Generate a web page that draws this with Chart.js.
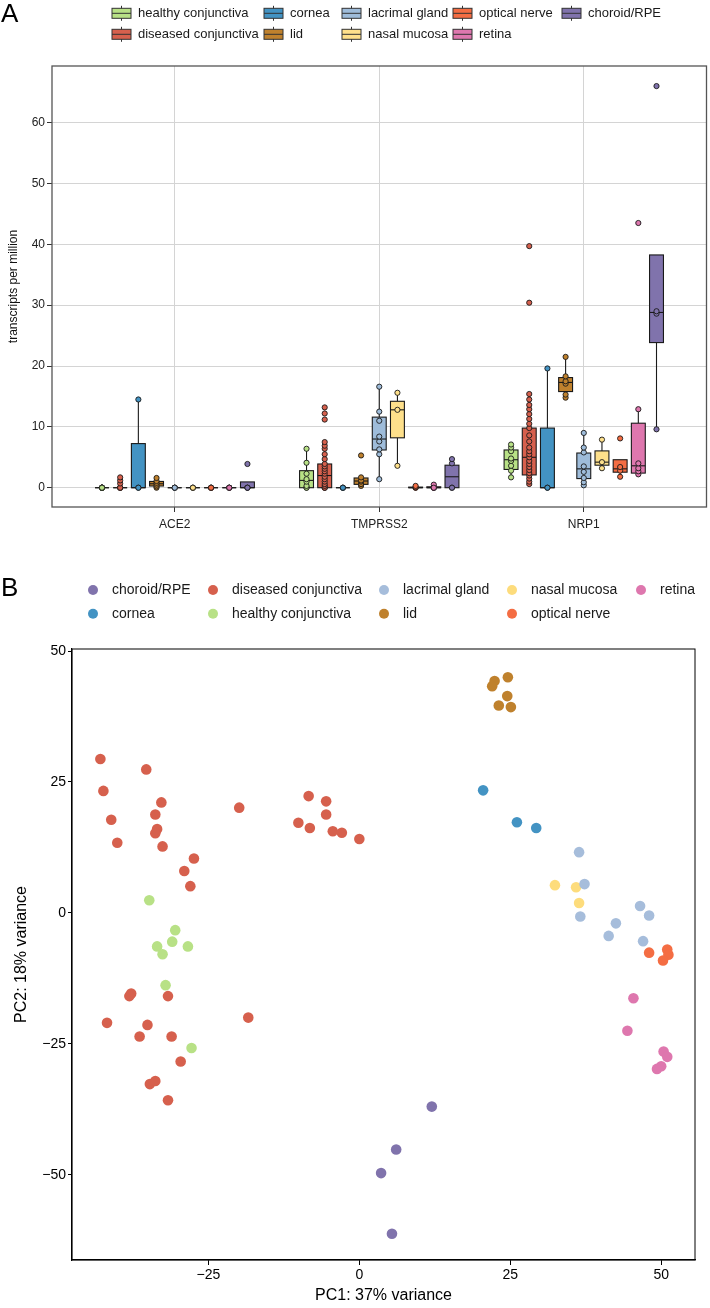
<!DOCTYPE html>
<html>
<head>
<meta charset="utf-8">
<script src="https://cdn.jsdelivr.net/npm/chart.js@4/dist/chart.umd.min.js"></script>
<style>
  body { margin: 0; background: #fff; }
  #wrapA { position: absolute; left: 0; top: 0; width: 710px; height: 545px; }
  #wrapB { position: absolute; left: 0; top: 545px; width: 710px; height: 763px; }
</style>
</head>
<body>
<div id="wrapA"><canvas id="boxChart"></canvas></div>
<div id="wrapB"><canvas id="pcaChart"></canvas></div>
<script>
// ---- panel A data ----
const genes = ["ACE2", "TMPRSS2", "NRP1"];
const tissues = ["healthy conjunctiva", "diseased conjunctiva", "cornea", "lid", "lacrimal gland",
                 "nasal mucosa", "optical nerve", "retina", "choroid/RPE"];
const tissueColors = ["#b8e186", "#d6604d", "#4393c3", "#bf812d", "#9ebcda",
                      "#fee08b", "#f46d43", "#de77ae", "#8073ac"];
const tpmTicks = [0, 10, 20, 30, 40, 50, 60];

// box stats per tissue: [lower whisker, q1, median, q3, upper whisker]
const ace2Box = [
  [0, 0, 0, 0, 0], [0, 0, 0, 0, 0], [0, 0, 0, 7.25, 14.5], [0, 0.28, 0.65, 1.03, 1.6],
  [0, 0, 0, 0, 0], [0, 0, 0, 0, 0], [0, 0, 0, 0, 0], [0, 0, 0, 0, 0], [0, 0, 0, 0.95, 0.95]
];
const tmprss2Box = [
  [0, 0, 1.2, 2.8, 6.4], [0, 0, 2.0, 3.9, 7.5], [0, 0, 0, 0, 0], [0.3, 0.55, 1.1, 1.6, 1.7],
  [1.4, 6.2, 8.0, 11.6, 16.6], [3.6, 8.2, 12.8, 14.2, 15.6], [0, 0, 0, 0.1, 0.3],
  [0, 0, 0, 0.15, 0.5], [0, 0, 1.8, 3.7, 4.7]
];
const nrp1Box = [
  [1.7, 3.0, 4.6, 6.2, 7.1], [0.6, 2.1, 5.0, 9.8, 15.4], [0, 0, 0, 9.8, 19.6],
  [14.8, 15.8, 17.3, 18.1, 21.5], [0.4, 1.5, 3.1, 5.7, 9.0], [3.2, 3.7, 4.2, 6.05, 7.9],
  [1.8, 2.55, 3.1, 4.6, 4.6], [2.2, 2.4, 3.6, 10.6, 12.9], [9.6, 23.85, 28.8, 38.25, 38.25]
];

// individual samples per tissue
const ace2Points = [
  [0, 0, 0, 0, 0, 0, 0, 0], [0, 0, 0, 0, 0.7, 1.2, 1.7], [0, 0, 14.5], [0, 0.2, 0.5, 0.8, 1.1, 1.6],
  [0, 0, 0, 0], [0, 0, 0], [0, 0, 0, 0], [0, 0, 0, 0], [0, 0, 0, 3.9]
];
const tmprss2Points = [
  [0, 0, 0.3, 1.0, 1.4, 2.3, 4.1, 6.4],
  [0, 0, 0, 0.3, 0.6, 1.0, 1.4, 1.8, 2.3, 2.7, 3.1, 3.5, 3.9, 4.7, 5.5, 6.4, 6.9, 7.5, 11.2, 12.2, 13.2],
  [0, 0, 0], [0.3, 0.6, 1.0, 1.2, 1.7, 5.3],
  [1.4, 5.5, 6.3, 7.6, 8.4, 11.0, 12.5, 16.6], [3.6, 12.8, 15.6], [0, 0, 0.1, 0.3],
  [0, 0, 0, 0.2, 0.5, 0], [0, 0, 4.0, 4.7]
];
const nrp1Points = [
  [1.7, 2.8, 3.6, 4.4, 4.8, 6.0, 6.6, 7.1],
  [0.6, 1.0, 1.5, 2.0, 2.4, 2.9, 3.4, 3.9, 4.4, 5.0, 5.5, 6.0, 6.6, 7.6, 8.6, 9.8, 10.5, 11.3,
   12.1, 12.9, 13.6, 14.5, 15.4, 30.4, 39.7],
  [0, 0, 19.6], [14.8, 15.3, 17.1, 17.5, 18.3, 21.5],
  [0.4, 0.9, 1.6, 2.6, 3.5, 5.8, 6.6, 9.0], [3.2, 4.2, 7.9], [1.8, 2.8, 3.4, 8.1],
  [2.2, 2.7, 3.2, 4.0, 12.9, 43.5], [9.6, 28.6, 29.0, 66.0]
];

// ---- panel B data ----
const pcaTissues = ["choroid/RPE", "cornea", "diseased conjunctiva", "healthy conjunctiva",
                    "lacrimal gland", "lid", "nasal mucosa", "optical nerve", "retina"];
const pcaColors = ["#8073ac", "#4393c3", "#d6604d", "#b8e186", "#a6bddb",
                   "#bf812d", "#fddc7c", "#f46d43", "#de77ae"];
const pc1Ticks = [-25, 0, 25, 50];
const pc2Ticks = [-50, -25, 0, 25, 50];

const pcaChoroid = [[3.6, -49.7], [6.1, -45.2], [12.0, -37.0], [5.4, -61.3]];
const pcaCornea = [[20.5, 23.4], [26.1, 17.3], [29.3, 16.2]];
const pcaDiseased = [
  [-42.9, 29.4], [-42.4, 23.3], [-41.1, 17.8], [-40.1, 13.4], [-35.3, 27.4], [-32.8, 21.1],
  [-33.8, 18.8], [-33.5, 16.0], [-33.8, 15.2], [-32.6, 12.7], [-27.4, 10.4], [-29.0, 8.0],
  [-28.0, 5.1], [-19.9, 20.1], [-10.1, 17.2], [-8.4, 22.3], [-8.2, 16.2], [-5.5, 21.3],
  [-5.5, 18.8], [-4.4, 15.6], [-2.9, 15.3], [0.0, 14.1],
  [-37.8, -15.4], [-38.1, -15.9], [-31.7, -15.9], [-41.8, -21.0], [-35.1, -21.4], [-18.4, -20.0],
  [-36.4, -23.6], [-31.1, -23.6], [-29.6, -28.4], [-34.7, -32.7], [-33.8, -32.1], [-31.7, -35.8]
];
const pcaHealthy = [[-34.8, 2.4], [-30.5, -3.3], [-31.0, -5.5], [-33.5, -6.4], [-28.4, -6.4],
                    [-32.6, -7.9], [-32.1, -13.8], [-27.8, -25.8]];
const pcaLacrimal = [[36.4, 11.6], [37.3, 5.5], [36.6, -0.7], [46.5, 1.3], [48.0, -0.5],
                     [42.5, -2.0], [41.3, -4.4], [47.0, -5.4]];
const pcaLid = [[24.6, 45.0], [22.4, 44.3], [22.0, 43.3], [24.5, 41.4], [23.1, 39.6], [25.1, 39.3]];
const pcaNasal = [[32.4, 5.3], [35.9, 4.9], [36.4, 1.9]];
const pcaOptical = [[48.0, -7.6], [51.0, -7.0], [51.2, -8.0], [50.3, -9.1]];
const pcaRetina = [[45.4, -16.3], [44.4, -22.5], [50.4, -26.5], [51.0, -27.5], [50.0, -29.3], [49.3, -29.8]];
const pcaPoints = [pcaChoroid, pcaCornea, pcaDiseased, pcaHealthy, pcaLacrimal,
                   pcaLid, pcaNasal, pcaOptical, pcaRetina];

Chart.defaults.font.family = '"Liberation Sans", Arial, Helvetica, sans-serif';
Chart.defaults.color = '#000';

const FONT = '"Liberation Sans", Arial, Helvetica, sans-serif';
const boxStats = [ace2Box, tmprss2Box, nrp1Box];
const samplePoints = [ace2Points, tmprss2Points, nrp1Points];
const slot = 0.8 / tissues.length;
const boxW = 0.068;
const xPos = (gi, ti) => gi + 1 + (ti - (tissues.length - 1) / 2) * slot;
const minus = v => String(v).replace('-', '\u2212');

// boxes + whiskers under the sample points
const boxPlugin = {
  id: 'boxes',
  beforeDatasetsDraw(chart) {
    const {ctx, scales: {x, y}} = chart;
    ctx.save();
    ctx.strokeStyle = '#1a1a1a';
    ctx.lineWidth = 1.1;
    boxStats.forEach((geneStats, gi) => geneStats.forEach((s, ti) => {
      const c = xPos(gi, ti);
      const xl = x.getPixelForValue(c - boxW / 2);
      const xr = x.getPixelForValue(c + boxW / 2);
      const xc = x.getPixelForValue(c);
      const [lo, q1, med, q3, hi] = s.map(v => y.getPixelForValue(v));
      ctx.beginPath();
      ctx.moveTo(xc, q3); ctx.lineTo(xc, hi);
      ctx.moveTo(xc, q1); ctx.lineTo(xc, lo);
      ctx.stroke();
      ctx.fillStyle = tissueColors[ti];
      ctx.fillRect(xl, q3, xr - xl, q1 - q3);
      ctx.strokeRect(xl, q3, xr - xl, q1 - q3);
      ctx.beginPath();
      ctx.moveTo(xl, med); ctx.lineTo(xr, med);
      ctx.stroke();
    }));
    ctx.restore();
  }
};

function framePlugin(color, width) {
  return {
    id: 'frame',
    afterDatasetsDraw(chart) {
      const {ctx, chartArea: a} = chart;
      ctx.save();
      ctx.strokeStyle = color;
      ctx.lineWidth = width;
      ctx.strokeRect(a.left, a.top, a.right - a.left, a.bottom - a.top);
      ctx.restore();
    }
  };
}

// column-wise legend with fixed column positions, plus the panel letter
function legendPlugin(cfg) {
  return {
    id: 'customLegend',
    afterDraw(chart) {
      const ctx = chart.ctx;
      ctx.save();
      ctx.textBaseline = 'middle';
      cfg.labels.forEach((lab, i) => {
        const col = Math.floor(i / 2), row = i % 2;
        const x = cfg.colX[col], y = cfg.rowY[row];
        cfg.glyph(ctx, x, y, cfg.colors[i]);
        ctx.fillStyle = '#1a1a1a';
        ctx.font = cfg.font;
        ctx.fillText(lab, x + cfg.textOffset, y);
      });
      ctx.fillStyle = '#000';
      ctx.textBaseline = 'alphabetic';
      ctx.font = '26px ' + FONT;
      ctx.fillText(cfg.letter, 1, cfg.letterY);
      ctx.restore();
    }
  };
}

const boxGlyph = (ctx, x, y, c) => {
  ctx.strokeStyle = '#333';
  ctx.lineWidth = 1;
  ctx.beginPath(); ctx.moveTo(x + 9.5, y - 7.5); ctx.lineTo(x + 9.5, y + 7.5); ctx.stroke();
  ctx.fillStyle = c;
  ctx.fillRect(x, y - 5, 19, 10);
  ctx.strokeRect(x, y - 5, 19, 10);
  ctx.beginPath(); ctx.moveTo(x, y); ctx.lineTo(x + 19, y); ctx.stroke();
};
const dotGlyph = (ctx, x, y, c) => {
  ctx.fillStyle = c;
  ctx.beginPath(); ctx.arc(x, y, 5, 0, Math.PI * 2); ctx.fill();
};

// ---- panel A ----
new Chart(document.getElementById('boxChart'), {
  type: 'scatter',
  data: {
    datasets: tissues.map((t, ti) => ({
      label: t,
      data: samplePoints.flatMap((g, gi) => g[ti].map(v => ({x: xPos(gi, ti), y: v}))),
      backgroundColor: tissueColors[ti],
      borderColor: '#1a1a1a',
      borderWidth: 0.9,
      pointRadius: 2.6,
      pointHoverRadius: 2.6
    }))
  },
  options: {
    responsive: true,
    maintainAspectRatio: false,
    animation: false,
    layout: {padding: {top: 66, right: 2, left: 0, bottom: 0}},
    plugins: {legend: {display: false}, tooltip: {enabled: false}},
    scales: {
      x: {
        type: 'linear', min: 0.4, max: 3.6,
        afterBuildTicks: s => { s.ticks = genes.map((g, i) => ({value: i + 1})); },
        afterFit: s => { s.height = 38; },
        ticks: {callback: v => genes[v - 1], color: '#222', font: {size: 12}, padding: 5, maxRotation: 0},
        grid: {color: '#d4d4d4', lineWidth: 1, tickColor: '#333', tickLength: 5},
        border: {display: false}
      },
      y: {
        min: -3.17, max: 69.3,
        afterBuildTicks: s => { s.ticks = tpmTicks.map(v => ({value: v})); },
        afterFit: s => { s.width = 52; },
        ticks: {color: '#222', font: {size: 12}, padding: 2},
        grid: {color: '#d4d4d4', lineWidth: 1, tickColor: '#333', tickLength: 5},
        border: {display: false},
        title: {display: true, text: 'transcripts per million', font: {size: 12}, color: '#111',
                padding: {top: 6, bottom: 0}}
      }
    }
  },
  plugins: [boxPlugin, framePlugin('#555', 1.3), legendPlugin({
    labels: tissues, colors: tissueColors, glyph: boxGlyph,
    colX: [112, 264, 342, 453, 562], rowY: [13.3, 34.3], textOffset: 26,
    font: '13px ' + FONT, letter: 'A', letterY: 22
  })]
});

// ---- panel B ----
new Chart(document.getElementById('pcaChart'), {
  type: 'scatter',
  data: {
    datasets: pcaTissues.map((t, i) => ({
      label: t,
      data: pcaPoints[i].map(([x, y]) => ({x, y})),
      backgroundColor: pcaColors[i],
      borderWidth: 0,
      pointRadius: 5.3,
      pointHoverRadius: 5.3
    }))
  },
  options: {
    responsive: true,
    maintainAspectRatio: false,
    animation: false,
    layout: {padding: {top: 104, right: 15, left: 0, bottom: 0}},
    plugins: {legend: {display: false}, tooltip: {enabled: false}},
    scales: {
      x: {
        type: 'linear', min: -47.6, max: 55.6,
        afterBuildTicks: s => { s.ticks = pc1Ticks.map(v => ({value: v})); },
        afterFit: s => { s.height = 48; },
        ticks: {callback: minus, color: '#000', font: {size: 14}, padding: 2, maxRotation: 0},
        grid: {drawOnChartArea: false, tickColor: '#000', tickLength: 5},
        border: {color: '#000', width: 1.2},
        title: {display: true, text: 'PC1: 37% variance', font: {size: 16}, color: '#000',
                padding: {top: 0, bottom: 3}}
      },
      y: {
        min: -66.3, max: 50.4,
        afterBuildTicks: s => { s.ticks = pc2Ticks.map(v => ({value: v})); },
        afterFit: s => { s.width = 72; },
        ticks: {callback: minus, color: '#000', font: {size: 14}, padding: 2},
        grid: {drawOnChartArea: false, tickColor: '#000', tickLength: 4},
        border: {color: '#000', width: 1.2},
        title: {display: true, text: 'PC2: 18% variance', font: {size: 16}, color: '#000',
                padding: {top: 12, bottom: 0}}
      }
    }
  },
  plugins: [framePlugin('#000', 1), legendPlugin({
    labels: pcaTissues, colors: pcaColors, glyph: dotGlyph,
    colX: [93, 213, 384, 512, 641], rowY: [45, 68.7], textOffset: 19,
    font: '14px ' + FONT, letter: 'B', letterY: 51
  })]
});
</script>
</body>
</html>
